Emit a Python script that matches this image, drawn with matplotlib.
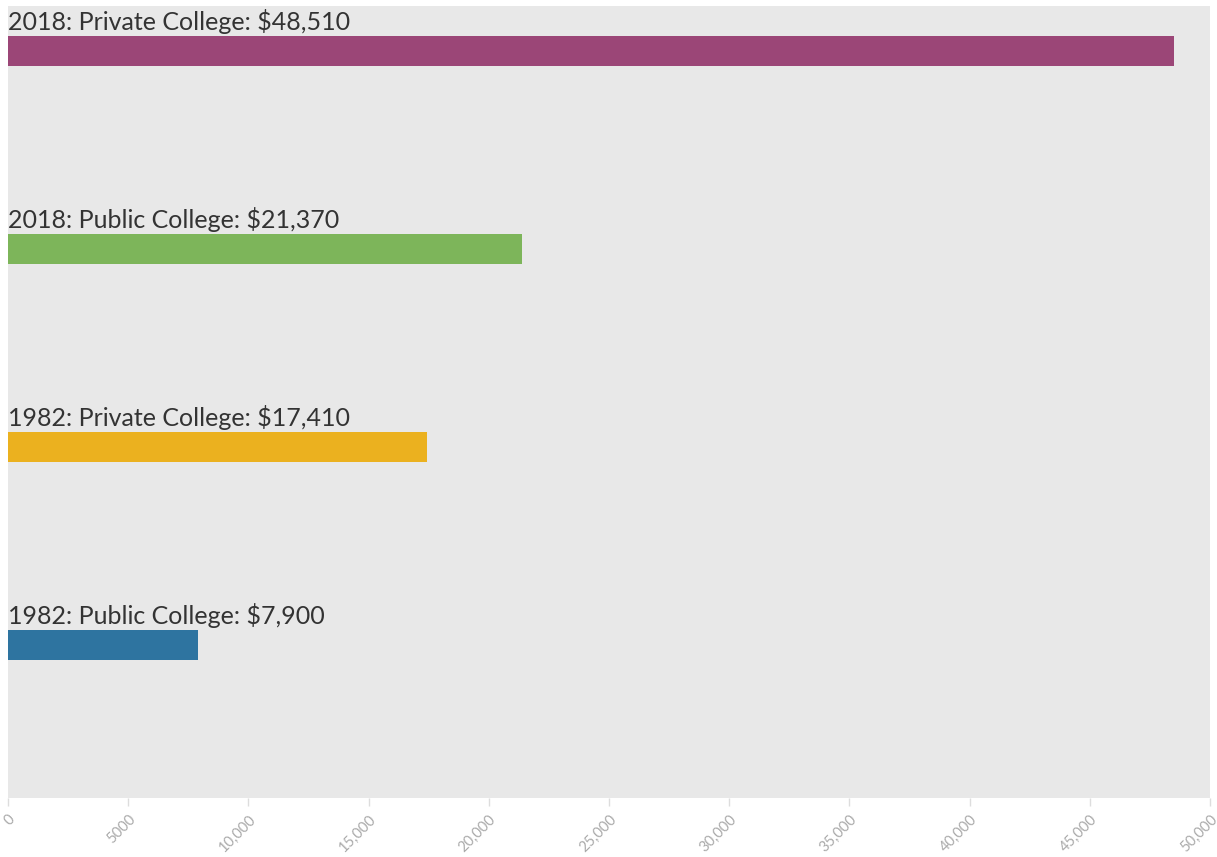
import matplotlib.pyplot as plt
import matplotlib.transforms as mtransforms

labels = ['2018: Private College: $48,510', '2018: Public College: $21,370',
          '1982: Private College: $17,410', '1982: Public College: $7,900']
values = [48510, 21370, 17410, 7900]
colors = ['#9b4677', '#7db55a', '#ebb11f', '#2e74a0']
tick_vals = [0, 5000, 10000, 15000, 20000, 25000, 30000, 35000, 40000, 45000, 50000]
tick_labels = ['0', '5000', '10,000', '15,000', '20,000', '25,000', '30,000',
               '35,000', '40,000', '45,000', '50,000']

W, H = 1217, 857
fig = plt.figure(figsize=(W / 100, H / 100), dpi=100)
ax = fig.add_axes([8 / W, (H - 798) / H, (1210 - 8) / W, (798 - 6) / H])
ax.set_facecolor('#e8e8e8')

off = 30 / 198
bh = 30 / 198
for i, (lab, v, c) in enumerate(zip(labels, values, colors)):
    ax.barh(i + off, v, height=bh, align='edge', color=c)
    ax.text(0, i + off - 0.012, lab, ha='left', va='bottom', fontsize=18,
            family='Lato', color='#333333')

ax.set_xlim(0, 50000)
ax.set_ylim(4, 0)
ax.set_yticks([])
for s in ax.spines.values():
    s.set_visible(False)

ax.set_xticks(tick_vals)
ax.set_xticklabels(tick_labels, rotation=45, ha='right', va='top',
                   rotation_mode='anchor', fontsize=10.5, color='#aaaaaa',
                   family='Lato')
shift = mtransforms.ScaledTranslation(6 / 100, -2 / 100, fig.dpi_scale_trans)
for t in ax.get_xticklabels():
    t.set_transform(t.get_transform() + shift)
ax.tick_params(axis='x', length=6, width=1, color='#dddddd', pad=4)

fig.savefig('out.png', dpi=100, facecolor='white')
